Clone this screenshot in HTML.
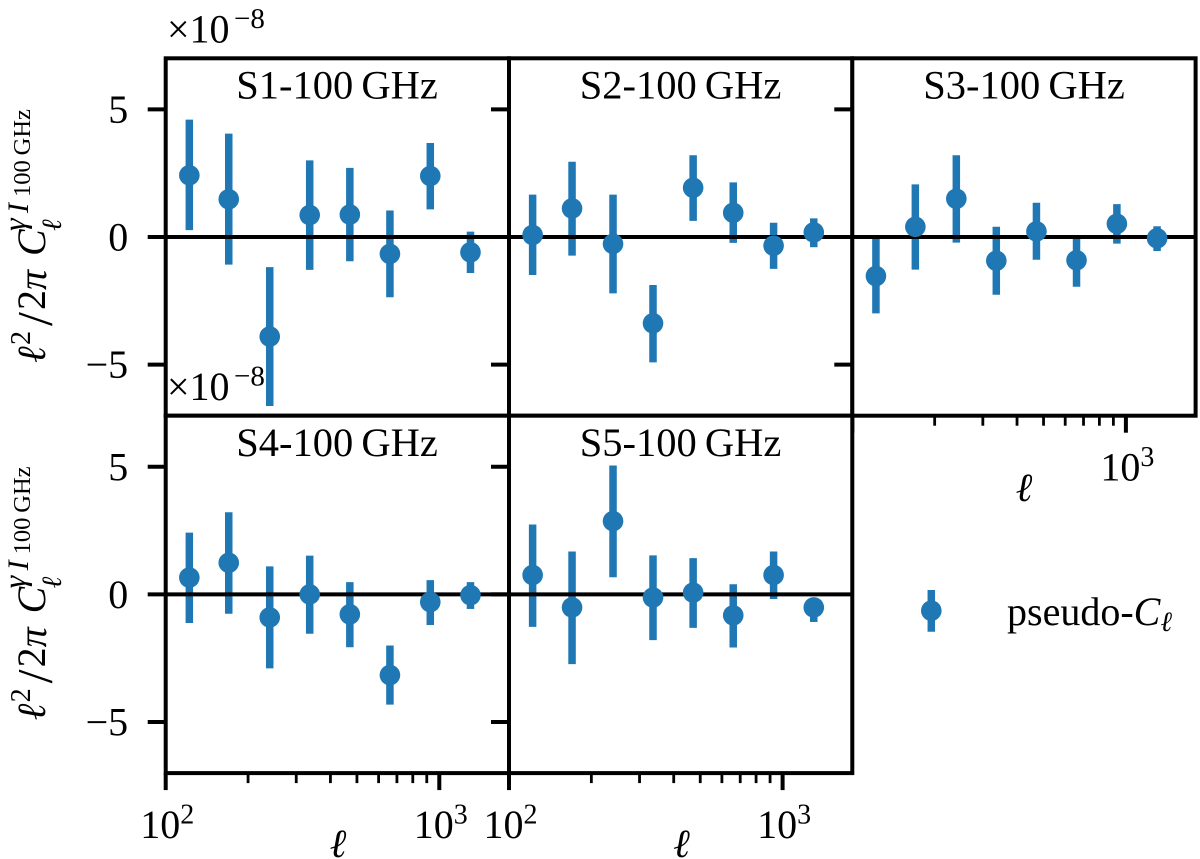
<!DOCTYPE html>
<html lang="en">
<head>
<meta charset="utf-8">
<title>Pseudo-Cl cross spectra S1-S5 x 100 GHz</title>
<style>
html,body{margin:0;padding:0;background:#fff;}
svg{display:block;}
text{font-family:"Liberation Serif","DejaVu Serif",serif;fill:#000;}
.it{font-style:italic;}
</style>
</head>
<body>
<svg id="chart" xmlns="http://www.w3.org/2000/svg" width="1200" height="859" viewBox="0 0 1200 859">
  <rect x="0" y="0" width="1200" height="859" fill="#fff"/>
  <g id="panels"></g>

  <g id="overlay">
    <text x="337" y="98.5" font-size="40.5" text-anchor="middle">S1-100&#8201;GHz</text>
    <text x="680.5" y="98.5" font-size="40.5" text-anchor="middle">S2-100&#8201;GHz</text>
    <text x="1024" y="98.5" font-size="40.5" text-anchor="middle">S3-100&#8201;GHz</text>
    <text x="337" y="456" font-size="40.5" text-anchor="middle">S4-100&#8201;GHz</text>
    <text x="680.5" y="456" font-size="40.5" text-anchor="middle">S5-100&#8201;GHz</text>

    <g>
      <text x="167" y="42.5" font-size="40">×10</text>
      <text x="234" y="28" font-size="29">−8</text>
    </g>
    <g>
      <text x="167" y="400" font-size="40">×10</text>
      <text x="234" y="385.5" font-size="29">−8</text>
    </g>

    <g>
      <text class="it" transform="translate(45,363) rotate(-90)" font-size="40">ℓ</text>
      <text transform="translate(30,345) rotate(-90)" font-size="28">2</text>
      <text transform="translate(51.5,326) rotate(-90)" font-size="50">/</text>
      <text transform="translate(45,310) rotate(-90)" font-size="40">2</text>
      <text class="it" transform="translate(46,290) rotate(-90)" font-size="40">π</text>
      <text class="it" transform="translate(45,256) rotate(-90)" font-size="40">C</text>
      <text class="it" transform="translate(25,231) rotate(-90)" font-size="32">γ</text>
      <text class="it" transform="translate(28,213) rotate(-90)" font-size="30">I</text>
      <text transform="translate(30,197) rotate(-90)" font-size="24.5">100&#8201;GHz</text>
      <text class="it" transform="translate(61,231) rotate(-90)" font-size="28">ℓ</text>
    </g>
    <g transform="translate(0,357.4)">
      <text class="it" transform="translate(45,363) rotate(-90)" font-size="40">ℓ</text>
      <text transform="translate(30,345) rotate(-90)" font-size="28">2</text>
      <text transform="translate(51.5,326) rotate(-90)" font-size="50">/</text>
      <text transform="translate(45,310) rotate(-90)" font-size="40">2</text>
      <text class="it" transform="translate(46,290) rotate(-90)" font-size="40">π</text>
      <text class="it" transform="translate(45,256) rotate(-90)" font-size="40">C</text>
      <text class="it" transform="translate(25,231) rotate(-90)" font-size="32">γ</text>
      <text class="it" transform="translate(28,213) rotate(-90)" font-size="30">I</text>
      <text transform="translate(30,197) rotate(-90)" font-size="24.5">100&#8201;GHz</text>
      <text class="it" transform="translate(61,231) rotate(-90)" font-size="28">ℓ</text>
    </g>

    <text class="it" x="1024" y="501" font-size="40" text-anchor="middle">ℓ</text>
    <text class="it" x="338" y="857" font-size="40" text-anchor="middle">ℓ</text>
    <text class="it" x="681.5" y="857" font-size="40" text-anchor="middle">ℓ</text>

    <g>
      <line x1="931.3" y1="590" x2="931.3" y2="631.7" stroke="#1f77b4" stroke-width="7.5"/>
      <circle cx="931.3" cy="610.7" r="10.3" fill="#1f77b4"/>
      <text x="1007" y="625" font-size="40">pseudo-<tspan class="it">C</tspan><tspan class="it" font-size="28" dy="6">ℓ</tspan></text>
    </g>
  </g>
</svg>

<script>
const ells = [122, 170, 240, 336, 471, 660, 927, 1300];

const s1Values = [2.42, 1.48, -3.90, 0.86, 0.88, -0.66, 2.39, -0.60];
const s1Upper  = [4.60, 4.05, -1.18, 3.00, 2.71, 1.04, 3.68, 0.21];
const s1Lower  = [0.27, -1.08, -6.62, -1.29, -0.95, -2.36, 1.08, -1.41];

const s2Values = [0.08, 1.12, -0.27, -3.38, 1.93, 0.95, -0.34, 0.18];
const s2Upper  = [1.66, 2.95, 1.66, -1.88, 3.20, 2.14, 0.56, 0.73];
const s2Lower  = [-1.49, -0.73, -2.21, -4.91, 0.63, -0.23, -1.25, -0.40];

const s3Values = [-1.53, 0.40, 1.50, -0.93, 0.22, -0.91, 0.52, -0.05];
const s3Upper  = [-0.02, 2.06, 3.20, 0.40, 1.34, 0.05, 1.29, 0.42];
const s3Lower  = [-2.99, -1.28, -0.22, -2.26, -0.89, -1.95, -0.26, -0.55];

const s4Values = [0.66, 1.24, -0.90, 0.00, -0.78, -3.16, -0.30, -0.03];
const s4Upper  = [2.42, 3.22, 1.10, 1.52, 0.48, -2.00, 0.56, 0.48];
const s4Lower  = [-1.12, -0.76, -2.90, -1.54, -2.07, -4.32, -1.20, -0.57];

const s5Values = [0.76, -0.51, 2.87, -0.12, 0.07, -0.82, 0.76, -0.51];
const s5Upper  = [2.74, 1.68, 5.05, 1.53, 1.42, 0.40, 1.68, -0.20];
const s5Lower  = [-1.27, -2.73, 0.67, -1.79, -1.31, -2.08, -0.18, -1.08];

const yTickValues = [-5, 0, 5];
const yTickLabels = ['−5', '0', '5'];
const xMajorTicks = [100, 1000];
const xMajorExponents = ['2', '3'];
const xMinorTicks = [200, 300, 400, 500, 600, 700, 800, 900];

const NS = 'http://www.w3.org/2000/svg';
const BLUE = '#1f77b4';
const panelWidth = 343.3;
const panelHeight = 357.4;
const decadeWidth = 273.6;
const yMax = 7;
const axisStroke = 4;

const panelSpecs = [
  {id: 's1', col: 0, row: 0, v: s1Values, up: s1Upper, lo: s1Lower, yLabels: true, xTicks: false, xLabels: false},
  {id: 's2', col: 1, row: 0, v: s2Values, up: s2Upper, lo: s2Lower, yLabels: false, xTicks: false, xLabels: false},
  {id: 's3', col: 2, row: 0, v: s3Values, up: s3Upper, lo: s3Lower, yLabels: false, xTicks: true, xLabels: [false, true]},
  {id: 's4', col: 0, row: 1, v: s4Values, up: s4Upper, lo: s4Lower, yLabels: true, xTicks: true, xLabels: [true, true]},
  {id: 's5', col: 1, row: 1, v: s5Values, up: s5Upper, lo: s5Lower, yLabels: false, xTicks: true, xLabels: [true, true]}
];

function make(tag, attrs, parent) {
  const el = document.createElementNS(NS, tag);
  for (const k in attrs) el.setAttribute(k, attrs[k]);
  parent.appendChild(el);
  return el;
}

const panelsRoot = document.getElementById('panels');

function drawPanel(spec) {
  const left = 165.7 + spec.col * panelWidth;
  const top = 58.3 + spec.row * panelHeight;
  const xScale = function (ell) { return left + (Math.log10(ell) - 2) * decadeWidth; };
  const yScale = function (val) { return top + panelHeight / 2 - val * (panelHeight / (2 * yMax)); };

  const g = make('g', {}, panelsRoot);
  
  

  const bg = make('rect', {x: left, y: top, width: panelWidth, height: panelHeight, fill: '#fff'}, g);
  
  

  spec.v.forEach(function (val, i) {
    const bar = make('line', {x1: xScale(ells[i]), x2: xScale(ells[i]), y1: yScale(spec.up[i]), y2: yScale(spec.lo[i]), stroke: BLUE, 'stroke-width': 7.5}, g);
    
    
  });

  const zero = make('line', {x1: left, x2: left + panelWidth, y1: yScale(0), y2: yScale(0), stroke: '#000', 'stroke-width': axisStroke}, g);
  
  

  spec.v.forEach(function (val, i) {
    const pt = make('circle', {cx: xScale(ells[i]), cy: yScale(val), r: 10.3, fill: BLUE}, g);
    
    
  });

  yTickValues.forEach(function (val, i) {
    const tick = make('line', {x1: left - 18, x2: left, y1: yScale(val), y2: yScale(val), stroke: '#000', 'stroke-width': axisStroke}, g);
    
    
    if (spec.yLabels) {
      const t = make('text', {x: left - 37.5, y: yScale(val) + 13.5, 'font-size': 40, 'text-anchor': 'end'}, g);
      
      
      t.textContent = yTickLabels[i];
    }
  });

  if (spec.xTicks) {
    const bottom = top + panelHeight;
    xMinorTicks.forEach(function (val) {
      const tick = make('line', {x1: xScale(val), x2: xScale(val), y1: bottom, y2: bottom + 10, stroke: '#000', 'stroke-width': 2.8}, g);
      
      
    });
    xMajorTicks.forEach(function (val, i) {
      const tick = make('line', {x1: xScale(val), x2: xScale(val), y1: bottom, y2: bottom + 17, stroke: '#000', 'stroke-width': axisStroke}, g);
      
      
      if (spec.xLabels[i]) {
        const t = make('text', {x: xScale(val) + 1.5, y: bottom + 65, 'font-size': 40, 'text-anchor': 'middle'}, g);
        
        
        t.textContent = '10';
        const s = make('tspan', {'font-size': 28, dy: -14.5}, t);
        s.textContent = xMajorExponents[i];
      }
    });
  }

  const frame = make('rect', {x: left, y: top, width: panelWidth, height: panelHeight, fill: 'none', stroke: '#000', 'stroke-width': axisStroke}, g);
  
  
}

panelSpecs.forEach(drawPanel);
</script>
</body>
</html>
